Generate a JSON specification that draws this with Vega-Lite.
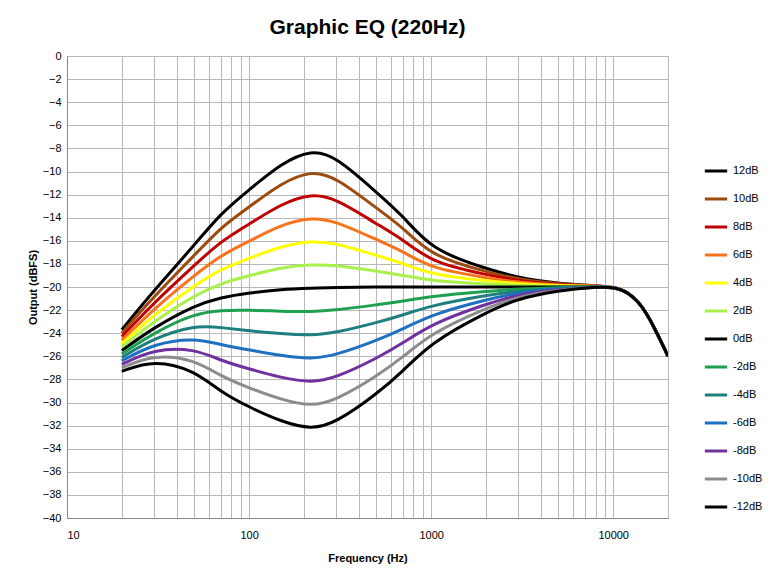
{
  "$schema": "https://vega.github.io/schema/vega-lite/v6.json",
  "autosize": "none",
  "width": 601,
  "height": 462,
  "padding": {"left": 67, "top": 56, "right": 113, "bottom": 63},
  "background": "white",
  "title": {"text": "Graphic EQ (220Hz)", "fontSize": 21, "font": "Liberation Sans", "fontWeight": "bold", "offset": 12, "anchor": "middle", "color": "#000"},
  "datasets": {
    "curves": [
      {"s":"12dB","f":20,"v":-23.7},{"s":"12dB","f":30,"v":-20.3},{"s":"12dB","f":50,"v":-16.4},{"s":"12dB","f":70,"v":-13.6},{"s":"12dB","f":100,"v":-11.6},{"s":"12dB","f":150,"v":-9.3},{"s":"12dB","f":220,"v":-8.1},{"s":"12dB","f":300,"v":-8.7},{"s":"12dB","f":500,"v":-11.8},{"s":"12dB","f":700,"v":-13.8},{"s":"12dB","f":1000,"v":-16.8},{"s":"12dB","f":2000,"v":-18.4},{"s":"12dB","f":3000,"v":-19.2},{"s":"12dB","f":5000,"v":-19.7},{"s":"12dB","f":8000,"v":-19.9},{"s":"12dB","f":10000,"v":-20},{"s":"12dB","f":12000,"v":-20.4},{"s":"12dB","f":15000,"v":-21.8},{"s":"12dB","f":20000,"v":-26},
      {"s":"10dB","f":20,"v":-24.0},{"s":"10dB","f":30,"v":-20.83},{"s":"10dB","f":50,"v":-17.27},{"s":"10dB","f":70,"v":-14.82},{"s":"10dB","f":100,"v":-13.08},{"s":"10dB","f":150,"v":-11.0},{"s":"10dB","f":220,"v":-9.9},{"s":"10dB","f":300,"v":-10.5},{"s":"10dB","f":500,"v":-13.17},{"s":"10dB","f":700,"v":-14.83},{"s":"10dB","f":1000,"v":-17.33},{"s":"10dB","f":2000,"v":-18.67},{"s":"10dB","f":3000,"v":-19.33},{"s":"10dB","f":5000,"v":-19.75},{"s":"10dB","f":8000,"v":-19.9},{"s":"10dB","f":10000,"v":-20},{"s":"10dB","f":12000,"v":-20.4},{"s":"10dB","f":15000,"v":-21.8},{"s":"10dB","f":20000,"v":-26},
      {"s":"8dB","f":20,"v":-24.3},{"s":"8dB","f":30,"v":-21.37},{"s":"8dB","f":50,"v":-18.13},{"s":"8dB","f":70,"v":-16.03},{"s":"8dB","f":100,"v":-14.57},{"s":"8dB","f":150,"v":-12.8},{"s":"8dB","f":220,"v":-11.9},{"s":"8dB","f":300,"v":-12.35},{"s":"8dB","f":500,"v":-14.53},{"s":"8dB","f":700,"v":-15.87},{"s":"8dB","f":1000,"v":-17.87},{"s":"8dB","f":2000,"v":-18.93},{"s":"8dB","f":3000,"v":-19.47},{"s":"8dB","f":5000,"v":-19.8},{"s":"8dB","f":8000,"v":-19.9},{"s":"8dB","f":10000,"v":-20},{"s":"8dB","f":12000,"v":-20.4},{"s":"8dB","f":15000,"v":-21.8},{"s":"8dB","f":20000,"v":-26},
      {"s":"6dB","f":20,"v":-24.6},{"s":"6dB","f":30,"v":-21.9},{"s":"6dB","f":50,"v":-19.0},{"s":"6dB","f":70,"v":-17.25},{"s":"6dB","f":100,"v":-16.05},{"s":"6dB","f":150,"v":-14.6},{"s":"6dB","f":220,"v":-13.95},{"s":"6dB","f":300,"v":-14.3},{"s":"6dB","f":500,"v":-15.9},{"s":"6dB","f":700,"v":-16.9},{"s":"6dB","f":1000,"v":-18.4},{"s":"6dB","f":2000,"v":-19.2},{"s":"6dB","f":3000,"v":-19.6},{"s":"6dB","f":5000,"v":-19.85},{"s":"6dB","f":8000,"v":-19.9},{"s":"6dB","f":10000,"v":-20},{"s":"6dB","f":12000,"v":-20.4},{"s":"6dB","f":15000,"v":-21.8},{"s":"6dB","f":20000,"v":-26},
      {"s":"4dB","f":20,"v":-24.9},{"s":"4dB","f":30,"v":-22.43},{"s":"4dB","f":50,"v":-19.87},{"s":"4dB","f":70,"v":-18.47},{"s":"4dB","f":100,"v":-17.53},{"s":"4dB","f":150,"v":-16.45},{"s":"4dB","f":220,"v":-16.0},{"s":"4dB","f":300,"v":-16.2},{"s":"4dB","f":500,"v":-17.27},{"s":"4dB","f":700,"v":-17.93},{"s":"4dB","f":1000,"v":-18.93},{"s":"4dB","f":2000,"v":-19.47},{"s":"4dB","f":3000,"v":-19.73},{"s":"4dB","f":5000,"v":-19.9},{"s":"4dB","f":8000,"v":-19.95},{"s":"4dB","f":10000,"v":-20},{"s":"4dB","f":12000,"v":-20.4},{"s":"4dB","f":15000,"v":-21.8},{"s":"4dB","f":20000,"v":-26},
      {"s":"2dB","f":20,"v":-25.2},{"s":"2dB","f":30,"v":-22.97},{"s":"2dB","f":50,"v":-20.73},{"s":"2dB","f":70,"v":-19.68},{"s":"2dB","f":100,"v":-19.02},{"s":"2dB","f":150,"v":-18.3},{"s":"2dB","f":220,"v":-18.05},{"s":"2dB","f":300,"v":-18.1},{"s":"2dB","f":500,"v":-18.63},{"s":"2dB","f":700,"v":-18.97},{"s":"2dB","f":1000,"v":-19.47},{"s":"2dB","f":2000,"v":-19.73},{"s":"2dB","f":3000,"v":-19.87},{"s":"2dB","f":5000,"v":-19.95},{"s":"2dB","f":8000,"v":-19.97},{"s":"2dB","f":10000,"v":-20},{"s":"2dB","f":12000,"v":-20.4},{"s":"2dB","f":15000,"v":-21.8},{"s":"2dB","f":20000,"v":-26},
      {"s":"0dB","f":20,"v":-25.5},{"s":"0dB","f":30,"v":-23.5},{"s":"0dB","f":50,"v":-21.6},{"s":"0dB","f":70,"v":-20.9},{"s":"0dB","f":100,"v":-20.5},{"s":"0dB","f":150,"v":-20.2},{"s":"0dB","f":220,"v":-20.1},{"s":"0dB","f":300,"v":-20.05},{"s":"0dB","f":500,"v":-20},{"s":"0dB","f":700,"v":-20},{"s":"0dB","f":1000,"v":-20},{"s":"0dB","f":2000,"v":-20},{"s":"0dB","f":3000,"v":-20},{"s":"0dB","f":5000,"v":-20},{"s":"0dB","f":8000,"v":-20},{"s":"0dB","f":10000,"v":-20},{"s":"0dB","f":12000,"v":-20.4},{"s":"0dB","f":15000,"v":-21.8},{"s":"0dB","f":20000,"v":-26},
      {"s":"-2dB","f":20,"v":-25.8},{"s":"-2dB","f":30,"v":-23.97},{"s":"-2dB","f":50,"v":-22.3},{"s":"-2dB","f":70,"v":-22.0},{"s":"-2dB","f":100,"v":-22.0},{"s":"-2dB","f":150,"v":-22.1},{"s":"-2dB","f":220,"v":-22.15},{"s":"-2dB","f":300,"v":-22.0},{"s":"-2dB","f":500,"v":-21.55},{"s":"-2dB","f":700,"v":-21.22},{"s":"-2dB","f":1000,"v":-20.8},{"s":"-2dB","f":2000,"v":-20.37},{"s":"-2dB","f":3000,"v":-20.17},{"s":"-2dB","f":5000,"v":-20.05},{"s":"-2dB","f":8000,"v":-20},{"s":"-2dB","f":10000,"v":-20},{"s":"-2dB","f":12000,"v":-20.4},{"s":"-2dB","f":15000,"v":-21.8},{"s":"-2dB","f":20000,"v":-26},
      {"s":"-4dB","f":20,"v":-26.1},{"s":"-4dB","f":30,"v":-24.43},{"s":"-4dB","f":50,"v":-23.3},{"s":"-4dB","f":70,"v":-23.5},{"s":"-4dB","f":100,"v":-23.8},{"s":"-4dB","f":150,"v":-24.05},{"s":"-4dB","f":220,"v":-24.2},{"s":"-4dB","f":300,"v":-23.95},{"s":"-4dB","f":500,"v":-23.1},{"s":"-4dB","f":700,"v":-22.43},{"s":"-4dB","f":1000,"v":-21.6},{"s":"-4dB","f":2000,"v":-20.73},{"s":"-4dB","f":3000,"v":-20.33},{"s":"-4dB","f":5000,"v":-20.1},{"s":"-4dB","f":8000,"v":-20},{"s":"-4dB","f":10000,"v":-20},{"s":"-4dB","f":12000,"v":-20.4},{"s":"-4dB","f":15000,"v":-21.8},{"s":"-4dB","f":20000,"v":-26},
      {"s":"-6dB","f":20,"v":-26.4},{"s":"-6dB","f":30,"v":-24.9},{"s":"-6dB","f":50,"v":-24.4},{"s":"-6dB","f":70,"v":-25.0},{"s":"-6dB","f":100,"v":-25.45},{"s":"-6dB","f":150,"v":-25.95},{"s":"-6dB","f":220,"v":-26.25},{"s":"-6dB","f":300,"v":-25.9},{"s":"-6dB","f":500,"v":-24.65},{"s":"-6dB","f":700,"v":-23.65},{"s":"-6dB","f":1000,"v":-22.4},{"s":"-6dB","f":2000,"v":-21.1},{"s":"-6dB","f":3000,"v":-20.5},{"s":"-6dB","f":5000,"v":-20.15},{"s":"-6dB","f":8000,"v":-20},{"s":"-6dB","f":10000,"v":-20},{"s":"-6dB","f":12000,"v":-20.4},{"s":"-6dB","f":15000,"v":-21.8},{"s":"-6dB","f":20000,"v":-26},
      {"s":"-8dB","f":20,"v":-26.7},{"s":"-8dB","f":30,"v":-25.37},{"s":"-8dB","f":50,"v":-25.33},{"s":"-8dB","f":70,"v":-26.37},{"s":"-8dB","f":100,"v":-27.1},{"s":"-8dB","f":150,"v":-27.85},{"s":"-8dB","f":220,"v":-28.3},{"s":"-8dB","f":300,"v":-27.85},{"s":"-8dB","f":500,"v":-26.2},{"s":"-8dB","f":700,"v":-24.87},{"s":"-8dB","f":1000,"v":-23.2},{"s":"-8dB","f":2000,"v":-21.47},{"s":"-8dB","f":3000,"v":-20.67},{"s":"-8dB","f":5000,"v":-20.2},{"s":"-8dB","f":8000,"v":-20},{"s":"-8dB","f":10000,"v":-20},{"s":"-8dB","f":12000,"v":-20.4},{"s":"-8dB","f":15000,"v":-21.8},{"s":"-8dB","f":20000,"v":-26},
      {"s":"-10dB","f":20,"v":-27.0},{"s":"-10dB","f":30,"v":-25.83},{"s":"-10dB","f":50,"v":-26.27},{"s":"-10dB","f":70,"v":-27.73},{"s":"-10dB","f":100,"v":-28.75},{"s":"-10dB","f":150,"v":-29.75},{"s":"-10dB","f":220,"v":-30.35},{"s":"-10dB","f":300,"v":-29.8},{"s":"-10dB","f":500,"v":-27.75},{"s":"-10dB","f":700,"v":-26.08},{"s":"-10dB","f":1000,"v":-24.0},{"s":"-10dB","f":2000,"v":-21.83},{"s":"-10dB","f":3000,"v":-20.83},{"s":"-10dB","f":5000,"v":-20.25},{"s":"-10dB","f":8000,"v":-20},{"s":"-10dB","f":10000,"v":-20},{"s":"-10dB","f":12000,"v":-20.4},{"s":"-10dB","f":15000,"v":-21.8},{"s":"-10dB","f":20000,"v":-26},
      {"s":"-12dB","f":20,"v":-27.3},{"s":"-12dB","f":30,"v":-26.3},{"s":"-12dB","f":50,"v":-27.2},{"s":"-12dB","f":70,"v":-29.1},{"s":"-12dB","f":100,"v":-30.4},{"s":"-12dB","f":150,"v":-31.65},{"s":"-12dB","f":220,"v":-32.35},{"s":"-12dB","f":300,"v":-31.75},{"s":"-12dB","f":500,"v":-29.3},{"s":"-12dB","f":700,"v":-27.3},{"s":"-12dB","f":1000,"v":-24.8},{"s":"-12dB","f":2000,"v":-22.2},{"s":"-12dB","f":3000,"v":-21.0},{"s":"-12dB","f":5000,"v":-20.3},{"s":"-12dB","f":8000,"v":-20},{"s":"-12dB","f":10000,"v":-20},{"s":"-12dB","f":12000,"v":-20.4},{"s":"-12dB","f":15000,"v":-21.8},{"s":"-12dB","f":20000,"v":-26}
    ]
  },
  "data": {"name": "curves"},
  "mark": {"type": "line", "interpolate": "basis", "strokeWidth": 3, "clip": true},
  "encoding": {
    "x": {
      "field": "f", "type": "quantitative",
      "scale": {"type": "log", "domain": [10, 20000], "nice": false},
      "axis": {
        "title": "Frequency (Hz)",
        "values": [10,20,30,40,50,60,70,80,90,100,200,300,400,500,600,700,800,900,1000,2000,3000,4000,5000,6000,7000,8000,9000,10000,20000],
        "labelExpr": "indexof([10,100,1000,10000], datum.value) >= 0 ? datum.value : ''",
        "ticks": false, "labelPadding": 11, "titlePadding": 12
      }
    },
    "y": {
      "field": "v", "type": "quantitative",
      "scale": {"domain": [-40, 0], "nice": false},
      "axis": {"title": "Output (dBFS)", "values": [-40,-38,-36,-34,-32,-30,-28,-26,-24,-22,-20,-18,-16,-14,-12,-10,-8,-6,-4,-2,0], "ticks": false}
    },
    "color": {
      "field": "s", "type": "nominal",
      "scale": {
        "domain": ["12dB","10dB","8dB","6dB","4dB","2dB","0dB","-2dB","-4dB","-6dB","-8dB","-10dB","-12dB"],
        "range": ["#000000","#9C4A0E","#C00000","#F7731C","#FFFF00","#A8F04A","#000000","#1FA050","#1E7F7F","#1E70C0","#7030A0","#8C8C8C","#000000"]
      },
      "legend": {
        "title": null, "orient": "none", "legendX": 636, "legendY": 102,
        "symbolType": "stroke", "symbolStrokeWidth": 3, "symbolSize": 500,
        "rowPadding": 9, "labelFontSize": 11, "labelFont": "Liberation Sans", "labelColor": "#000"
      }
    }
  },
  "config": {
    "view": {"stroke": "#888"},
    "axis": {
      "grid": true, "gridColor": "#b8b8b8", "gridWidth": 1,
      "domainColor": "#888", "labelFont": "Liberation Sans", "labelFontSize": 11, "labelColor": "#000",
      "titleFont": "Liberation Sans", "titleFontSize": 11, "titleFontWeight": "bold", "titleColor": "#000", "labelPadding": 6
    }
  }
}
